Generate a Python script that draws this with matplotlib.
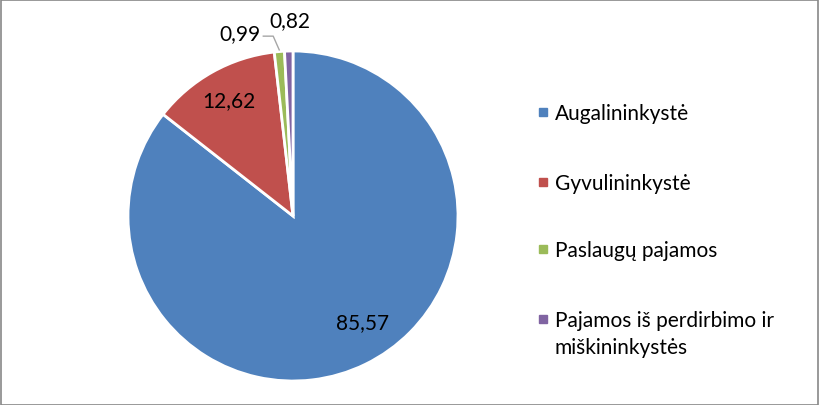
import numpy as np
import matplotlib
matplotlib.use("Agg")
import matplotlib.pyplot as plt

# Chart data
categories = ["Augalininkystė", "Gyvulininkystė", "Paslaugų pajamos",
              "Pajamos iš perdirbimo ir\nmiškininkystės"]
values = [85.57, 12.62, 0.99, 0.82]
colors = ["#4F81BD", "#C0504D", "#9BBB59", "#8064A2"]

plt.rcParams['font.family'] = ['Lato', 'DejaVu Sans']

W, H = 820, 406
fig = plt.figure(figsize=(W / 100, H / 100), dpi=100)
ax = fig.add_axes([128 / W, 24 / H, 330 / W, 330 / H])

wedges, _ = ax.pie(values, colors=colors, startangle=90, counterclock=False,
                   wedgeprops=dict(edgecolor="white", linewidth=2))
ax.set_aspect("equal")
ax.set_xlim(-1, 1)
ax.set_ylim(-1, 1)

labels = [f"{v:.2f}".replace(".", ",") for v in values]
fs = 15

# data label positions (pie radius units), like Excel's best fit
label_pos = [(0.42, -0.64), (-0.39, 0.70), (-0.32, 1.11), (-0.02, 1.19)]
for lab, (lx, ly) in zip(labels, label_pos):
    ax.text(lx, ly, lab, ha="center", va="center", fontsize=fs, clip_on=False)

# leader line for the green wedge
ang_g = np.deg2rad((wedges[2].theta1 + wedges[2].theta2) / 2)
ax.plot([-0.18, -0.12, np.cos(ang_g) * 1.01], [1.09, 1.09, np.sin(ang_g) * 1.01],
        color="#A6A6A6", lw=1, clip_on=False)

# legend drawn by hand (Excel style spacing)
leg_y = [113, 183, 250, 320]
for lab, c, y in zip(categories, colors, leg_y):
    fig.add_artist(plt.Line2D([543 / W], [1 - y / H], marker="s",
                              markersize=6, color=c, linestyle=""))
    fig.text(555 / W, 1 - (y - 9) / H, lab, ha="left", va="top",
             fontsize=fs, linespacing=1.42)

# outer frame
fig.patches.append(plt.Rectangle((0.001, 0.001), 0.997, 0.996,
                                 transform=fig.transFigure, fill=False,
                                 edgecolor="#888888", lw=1.2))

fig.savefig("out.png", dpi=100)
